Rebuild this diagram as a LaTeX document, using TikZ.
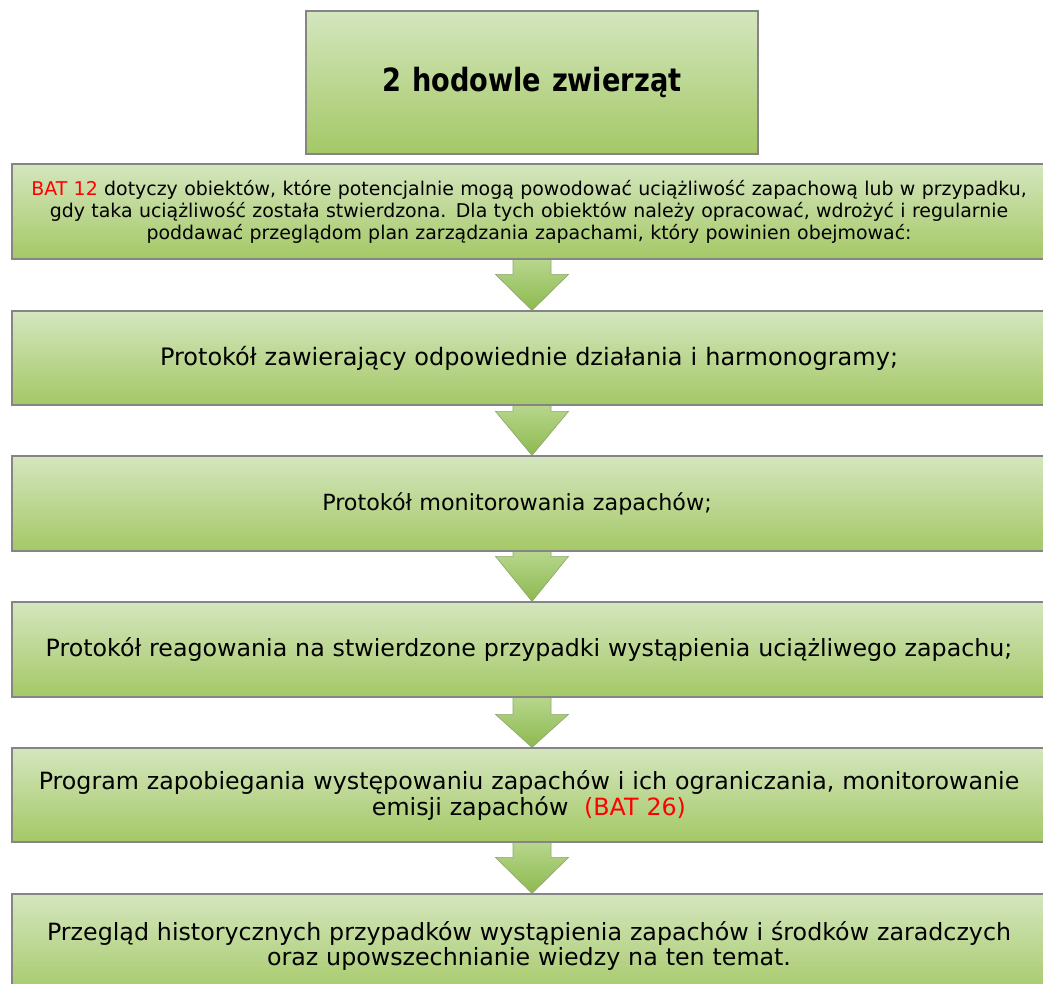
\documentclass[tikz,border=0pt]{standalone}
\usepackage{fontspec}
\setmainfont{DejaVu Sans}
\newfontfamily\titlefont[FakeStretch=0.85]{DejaVu Sans Bold}
\usetikzlibrary{calc,backgrounds}
\definecolor{boxtop}{HTML}{D4E6BE}
\definecolor{boxbot}{HTML}{A4C866}
\definecolor{boxline}{HTML}{858585}
\definecolor{arrtop}{HTML}{B7D68C}
\definecolor{arrbot}{HTML}{8DB94F}
\definecolor{arrline}{HTML}{8FA872}
\definecolor{batred}{HTML}{FF0000}
\newcommand{\flowarrow}[3]{%
  \path[arrowshape] ($(ax |- #1.south)+(-19,0)$) -- ($(ax |- #1.south)+(19,0)$)
    -- ($(ax |- #2.north)+(19,-#3)$) -- ($(ax |- #2.north)+(36.5,-#3)$)
    -- (ax |- #2.north) -- ($(ax |- #2.north)+(-36.5,-#3)$)
    -- ($(ax |- #2.north)+(-19,-#3)$) -- cycle;}
\begin{document}
\begin{tikzpicture}[x=0.75pt,y=-0.75pt,
  greenbox/.style={draw=boxline, line width=0.9pt, top color=boxtop, bottom color=boxbot,
    inner sep=0pt, align=center, text width=775.5pt, minimum height=71.25pt},
  titlebox/.style={greenbox, text width=339pt, minimum height=107.25pt,
    font=\titlefont\fontsize{24}{28}\selectfont},
  arrowshape/.style={draw=arrline, line width=0.5pt, top color=arrtop, bottom color=arrbot}]
\useasboundingbox (0,0) rectangle (1043,984);
\coordinate (ax) at (532,0);
\node[titlebox] (t) at (532,82.5) {2 hodowle zwierząt};
\node[greenbox, font=\fontsize{14.2}{16.5}\selectfont] (b1) at (529,211.5) {\textcolor{batred}{BAT 12} dotyczy obiektów, które potencjalnie mogą powodować uciążliwość zapachową lub w przypadku,\\ gdy taka uciążliwość została stwierdzona. Dla tych obiektów należy opracować, wdrożyć i regularnie\\ poddawać przeglądom plan zarządzania zapachami, który powinien obejmować:};
\node[greenbox, minimum height=70.5pt, font=\fontsize{18}{20}\selectfont] (b2) at (529,358) {Protokół zawierający odpowiednie działania i harmonogramy;};
\node[greenbox, font=\fontsize{16.7}{19}\selectfont] (b3) at (529,503.5) {Protokół monitorowania zapachów;\mbox{\hspace{18pt}}};
\node[greenbox, font=\fontsize{17.8}{20}\selectfont] (b4) at (529,649.5) {Protokół reagowania na stwierdzone przypadki wystąpienia uciążliwego zapachu;};
\node[greenbox, minimum height=70.5pt, font=\fontsize{17.8}{19.5}\selectfont] (b5) at (529,795) {Program zapobiegania występowaniu zapachów i ich ograniczania, monitorowanie\\ emisji zapachów~~\textcolor{batred}{(BAT 26)}};
\node[greenbox, minimum height=78pt, font=\fontsize{17.8}{19}\selectfont] (b6) at (529,946) {Przegląd historycznych przypadków wystąpienia zapachów i środków zaradczych\\ oraz upowszechnianie wiedzy na ten temat.};
\begin{pgfonlayer}{background}
\flowarrow{b1}{b2}{36}
\flowarrow{b2}{b3}{44}
\flowarrow{b3}{b4}{45}
\flowarrow{b4}{b5}{33}
\flowarrow{b5}{b6}{36}
\end{pgfonlayer}
\end{tikzpicture}
\end{document}
